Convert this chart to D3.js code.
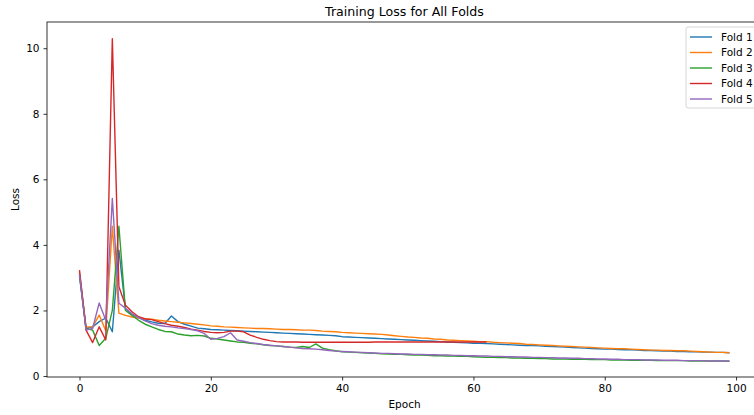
<!DOCTYPE html>
<html>
<head>
<meta charset="utf-8">
<script src="https://cdn.jsdelivr.net/npm/d3@7"></script>
<style>
  body { margin: 0; background: #fff; }
  svg { display: block; font-family: "DejaVu Sans", sans-serif; }
</style>
</head>
<body>
<svg id="chart" width="754" height="415"></svg>
<script>
// loss per epoch
const fold1 = [
  3.05,1.45,1.50,1.66,1.77,1.35,3.84,2.05,1.88,1.78,
  1.70,1.65,1.61,1.60,1.83,1.66,1.58,1.52,1.46,1.44,
  1.42,1.41,1.40,1.39,1.38,1.37,1.36,1.35,1.34,1.33,
  1.32,1.31,1.30,1.29,1.28,1.27,1.26,1.25,1.24,1.23,
  1.20,1.19,1.18,1.17,1.16,1.15,1.14,1.13,1.12,1.11,
  1.10,1.09,1.08,1.07,1.06,1.05,1.04,1.03,1.02,1.01,
  1.00,1.00,0.99,0.98,0.97,0.96,0.95,0.94,0.93,0.93,
  0.92,0.91,0.90,0.89,0.88,0.87,0.86,0.85,0.84,0.83,
  0.82,0.82,0.81,0.80,0.80,0.79,0.78,0.78,0.77,0.76,
  0.76,0.75,0.75,0.74,0.74,0.73,0.73,0.72,0.72,0.71
];
const fold2 = [
  3.15,1.50,1.50,1.86,1.38,4.57,1.92,1.85,1.80,1.77,
  1.75,1.73,1.70,1.68,1.66,1.64,1.62,1.60,1.58,1.56,
  1.53,1.52,1.50,1.49,1.48,1.47,1.46,1.45,1.45,1.44,
  1.43,1.42,1.42,1.41,1.40,1.40,1.39,1.37,1.36,1.35,
  1.33,1.32,1.31,1.30,1.29,1.28,1.27,1.25,1.23,1.21,
  1.19,1.18,1.16,1.15,1.13,1.12,1.10,1.09,1.08,1.07,
  1.06,1.05,1.05,1.03,1.02,1.01,1.00,0.99,0.97,0.96,
  0.95,0.94,0.93,0.92,0.91,0.90,0.89,0.88,0.87,0.86,
  0.85,0.84,0.83,0.83,0.82,0.81,0.80,0.79,0.79,0.78,
  0.78,0.77,0.77,0.76,0.75,0.74,0.73,0.72,0.72,0.71
];
const fold3 = [
  3.10,1.45,1.40,0.93,1.15,2.00,4.57,2.00,1.85,1.70,
  1.58,1.50,1.42,1.36,1.35,1.28,1.25,1.23,1.24,1.22,
  1.15,1.13,1.10,1.07,1.04,1.03,1.00,0.98,0.95,0.93,
  0.92,0.90,0.88,0.87,0.90,0.87,0.98,0.85,0.80,0.77,
  0.74,0.73,0.72,0.71,0.70,0.69,0.68,0.67,0.66,0.66,
  0.65,0.64,0.64,0.63,0.62,0.62,0.61,0.61,0.60,0.60,
  0.59,0.58,0.57,0.57,0.56,0.56,0.55,0.55,0.54,0.54,
  0.53,0.53,0.52,0.52,0.52,0.51,0.51,0.51,0.50,0.50,
  0.50,0.49,0.49,0.49,0.48,0.48,0.48,0.48,0.47,0.47,
  0.47,0.47,0.47,0.46,0.46,0.46,0.46,0.46,0.46,0.45
];
// fold 4 stopped early at epoch 62
const fold4 = [
  3.23,1.40,1.02,1.50,1.10,10.29,2.72,2.16,1.96,1.81,
  1.74,1.72,1.66,1.60,1.55,1.52,1.48,1.43,1.40,1.36,
  1.33,1.32,1.33,1.37,1.37,1.35,1.25,1.18,1.12,1.08,
  1.05,1.04,1.04,1.04,1.03,1.03,1.03,1.03,1.03,1.03,
  1.03,1.03,1.03,1.03,1.03,1.04,1.04,1.04,1.04,1.04,
  1.04,1.04,1.04,1.04,1.04,1.04,1.04,1.04,1.04,1.04,
  1.04,1.04,1.04
];
const fold5 = [
  3.10,1.40,1.45,2.23,1.70,5.42,2.22,2.07,1.90,1.78,
  1.68,1.60,1.55,1.52,1.50,1.47,1.45,1.42,1.38,1.30,
  1.12,1.15,1.20,1.32,1.10,1.06,1.02,0.99,0.96,0.94,
  0.92,0.90,0.88,0.86,0.84,0.83,0.82,0.80,0.78,0.76,
  0.75,0.74,0.73,0.72,0.71,0.70,0.69,0.69,0.68,0.67,
  0.67,0.66,0.66,0.65,0.65,0.64,0.64,0.63,0.63,0.62,
  0.62,0.61,0.61,0.60,0.60,0.59,0.59,0.58,0.58,0.57,
  0.57,0.56,0.56,0.55,0.55,0.54,0.54,0.53,0.53,0.52,
  0.52,0.51,0.51,0.50,0.50,0.50,0.49,0.49,0.49,0.48,
  0.48,0.48,0.47,0.47,0.47,0.47,0.46,0.46,0.46,0.46
];

const foldNames = ['Fold 1', 'Fold 2', 'Fold 3', 'Fold 4', 'Fold 5'];
const foldSeries = [fold1, fold2, fold3, fold4, fold5];
const foldColors = ['#1f77b4', '#ff7f0e', '#2ca02c', '#d62728', '#9467bd'];
const xTicks = [0, 20, 40, 60, 80, 100];
const yTicks = [0, 2, 4, 6, 8, 10];

const svg = d3.select('#chart');
const mLeft = 47, mRight = 762, mTop = 22, mBottom = 377;

const x = d3.scaleLinear().domain([-4.95, 103.95]).range([mLeft, mRight]);
const y = d3.scaleLinear().domain([-0.03, 10.8]).range([mBottom, mTop]);

// lines
const line = d3.line()
  .x((d, i) => x(i))
  .y(d => y(d));

const plot = svg.append('g');
foldSeries.forEach((s, k) => {
  plot.append('path')
    .datum(s)
    .attr('d', line)
    .attr('fill', 'none')
    .attr('stroke', foldColors[k])
    .attr('stroke-width', 1.4)
    .attr('stroke-linejoin', 'round');
});

// axes
const xAxis = svg.append('g')
  .attr('transform', `translate(0,${mBottom})`)
  .call(d3.axisBottom(x).tickValues(xTicks).tickSize(3.5).tickPadding(4));
const yAxis = svg.append('g')
  .attr('transform', `translate(${mLeft},0)`)
  .call(d3.axisLeft(y).tickValues(yTicks).tickSize(3.5).tickPadding(4));

[xAxis, yAxis].forEach(a => {
  a.select('.domain').remove();
  a.selectAll('text').attr('font-size', 10.5).attr('font-family', 'DejaVu Sans').attr('fill', '#000');
  a.selectAll('line').attr('stroke', '#000').attr('stroke-width', 0.8);
});

// frame
svg.append('rect')
  .attr('x', mLeft).attr('y', mTop)
  .attr('width', mRight - mLeft).attr('height', mBottom - mTop)
  .attr('fill', 'none').attr('stroke', '#000').attr('stroke-width', 0.8);

// title and labels
svg.append('text')
  .attr('x', (mLeft + mRight) / 2).attr('y', 16)
  .attr('text-anchor', 'middle')
  .attr('font-size', 12.6)
  .text('Training Loss for All Folds');

svg.append('text')
  .attr('x', (mLeft + mRight) / 2).attr('y', 408)
  .attr('text-anchor', 'middle')
  .attr('font-size', 10.5)
  .text('Epoch');

svg.append('text')
  .attr('transform', `translate(19,${(mTop + mBottom) / 2}) rotate(-90)`)
  .attr('text-anchor', 'middle')
  .attr('font-size', 10.5)
  .text('Loss');

// legend
const lg = svg.append('g').attr('transform', 'translate(686,27)');
lg.append('rect')
  .attr('width', 72).attr('height', 81)
  .attr('rx', 2)
  .attr('fill', '#fff').attr('fill-opacity', 0.8)
  .attr('stroke', '#ccc').attr('stroke-width', 0.8);
foldNames.forEach((name, k) => {
  const row = lg.append('g').attr('transform', `translate(0,${10 + k * 15.5})`);
  row.append('line')
    .attr('x1', 4).attr('x2', 26)
    .attr('stroke', foldColors[k]).attr('stroke-width', 1.4);
  row.append('text')
    .attr('x', 35).attr('dy', '0.35em')
    .attr('font-size', 10.5)
    .text(name);
});
</script>
</body>
</html>
